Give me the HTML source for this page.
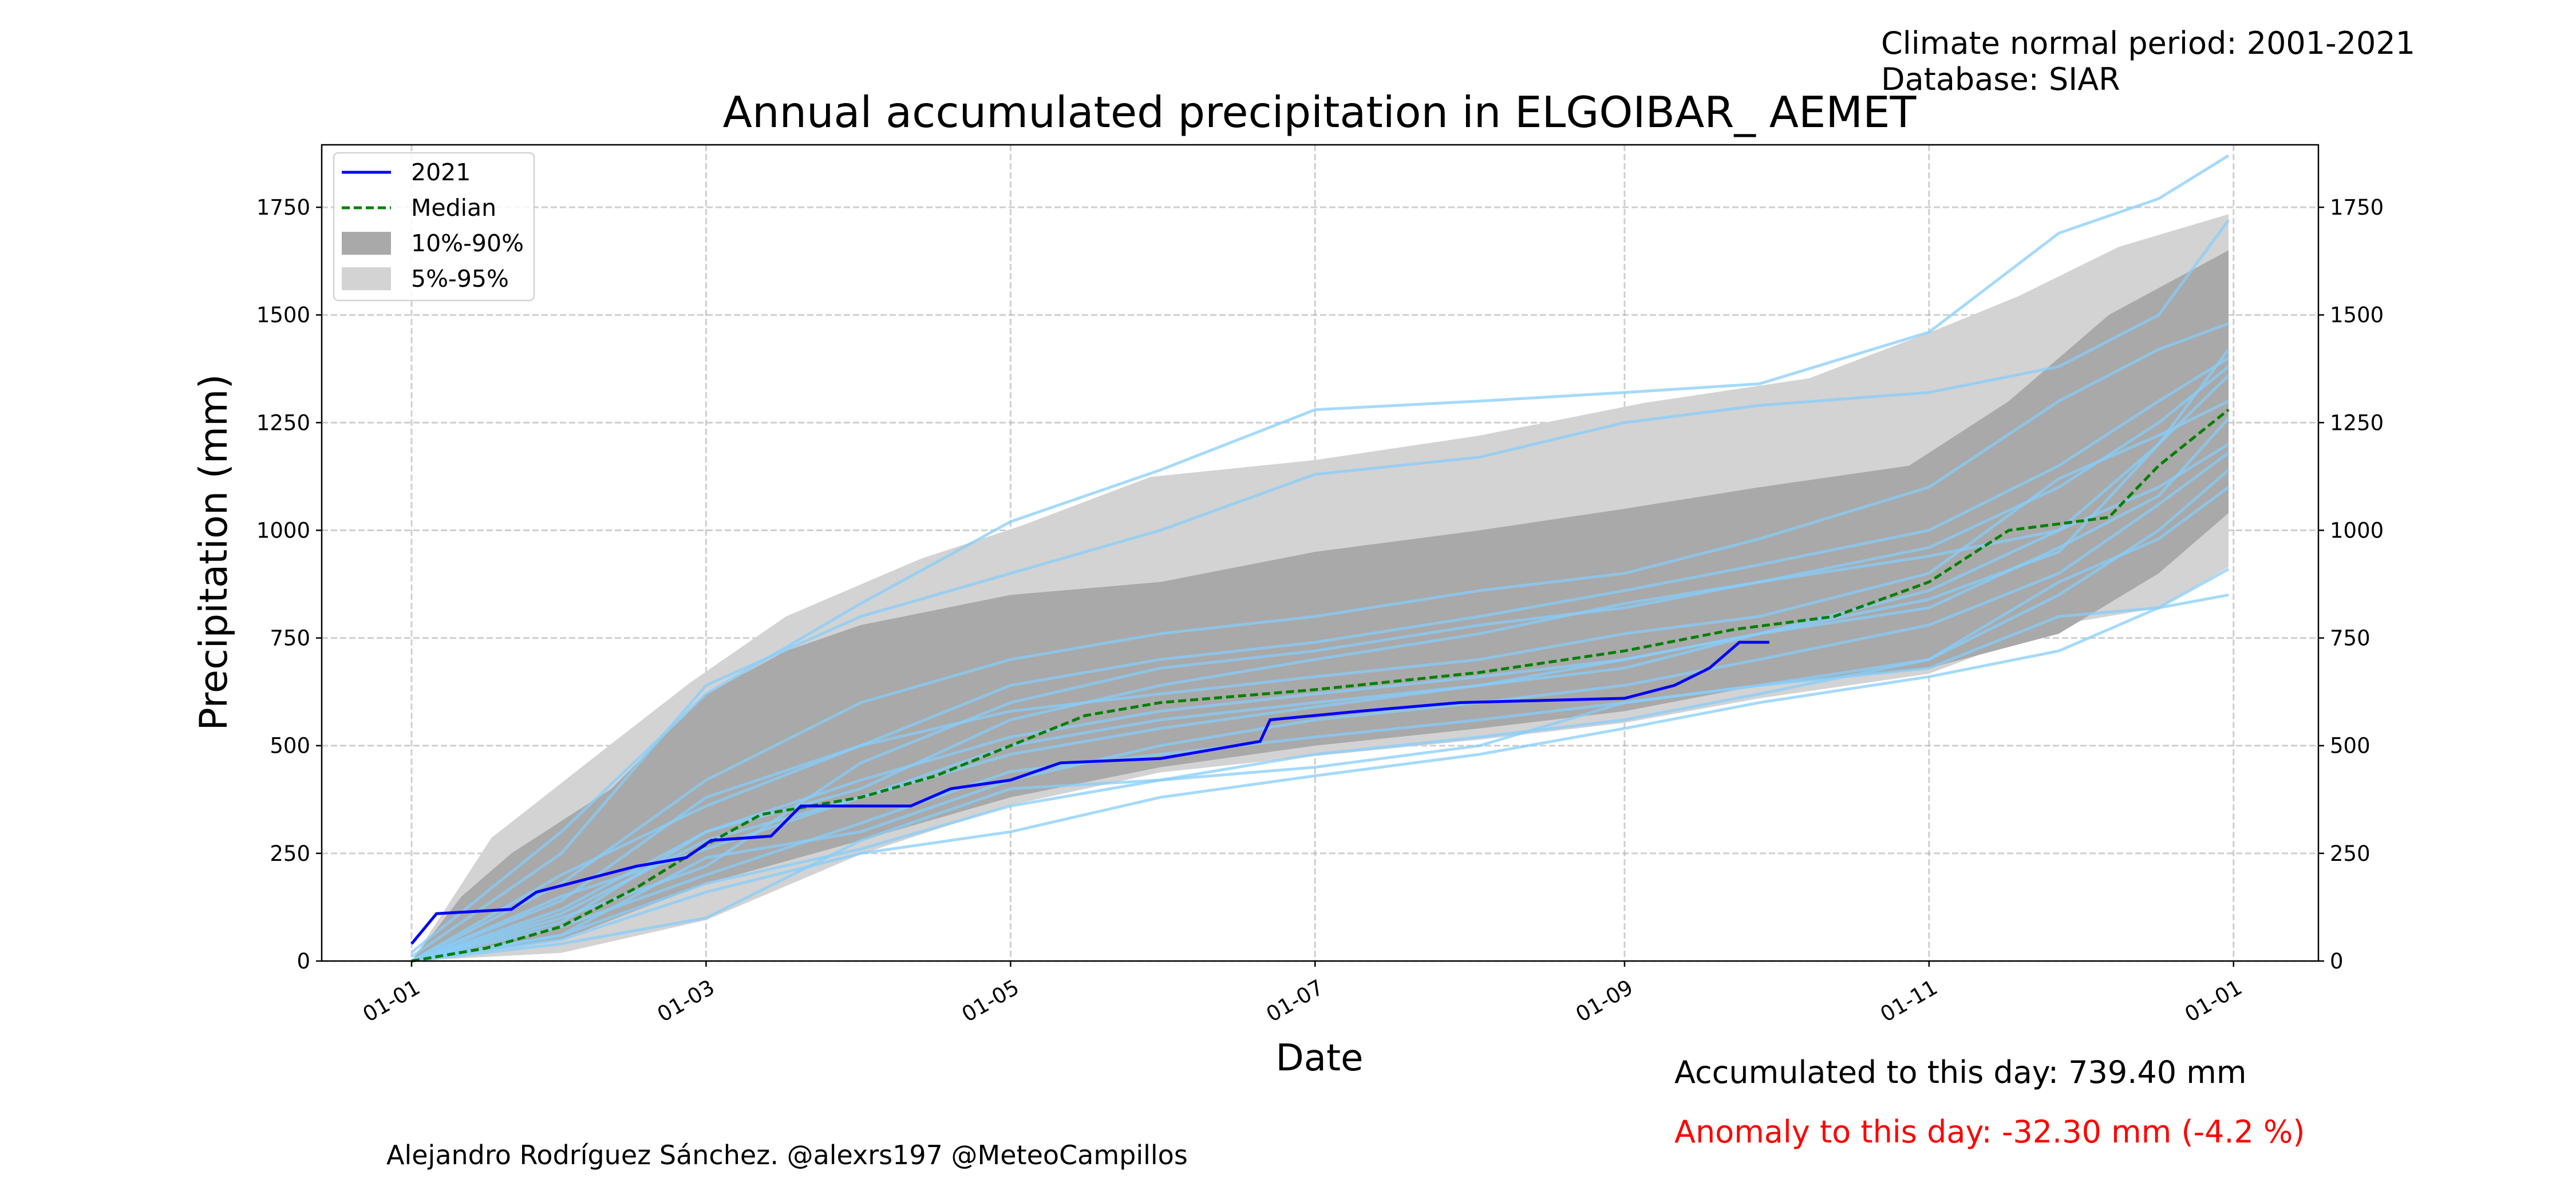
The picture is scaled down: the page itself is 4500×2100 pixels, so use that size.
<!DOCTYPE html>
<html><head><meta charset="utf-8"><style>
html,body{margin:0;padding:0;background:#fff;}
svg{display:block;font-family:"DejaVu Sans","Liberation Sans",sans-serif;}
</style></head><body>
<svg id="chart" width="4500" height="2100" viewBox="0 0 4500 2100" xmlns="http://www.w3.org/2000/svg">
<rect width="4500" height="2100" fill="#fff"/>
<text x="3286" y="94" font-size="54">Climate normal period: 2001-2021</text>
<text x="3286" y="157" font-size="54">Database: SIAR</text>
<text x="2305" y="222" font-size="75" text-anchor="middle">Annual accumulated precipitation in ELGOIBAR_ AEMET</text>
<g id="plot"></g>
<text x="2305" y="1870" font-size="64" text-anchor="middle">Date</text>
<text transform="translate(396,965) rotate(-90)" font-size="67" text-anchor="middle">Precipitation (mm)</text>
<text x="2925" y="1892" font-size="54">Accumulated to this day: 739.40 mm</text>
<text x="2925" y="1996" font-size="54" fill="#ff0000">Anomaly to this day: -32.30 mm (-4.2 %)</text>
<text x="675" y="2034" font-size="46">Alejandro Rodríguez Sánchez. @alexrs197 @MeteoCampillos</text>
</svg>
<script>
const tickDays=[0,59,120,181,243,304,365];
const tickLabels=["01-01","01-03","01-05","01-07","01-09","01-11","01-01"];
const yTicks=[0,250,500,750,1000,1250,1500,1750];
const p95Days=[0,16,39,56,75,102,122,148,181,214,247,280,306,322,342,364];
const p95Vals=[0,286,495,648,800,934,1010,1124,1163,1220,1296,1353,1468,1544,1658,1734];
const p5Days=[0,30,59,90,120,150,181,214,243,270,304,330,350,364];
const p5Vals=[0,19,95,248,362,438,476,514,553,610,667,781,820,915];
const p90Days=[0,10,20,40,59,75,90,120,150,181,214,243,270,300,320,340,364];
const p90Vals=[0,150,250,400,620,720,780,850,880,950,1000,1050,1100,1150,1300,1500,1650];
const p10Days=[0,30,59,90,120,150,181,214,243,270,304,330,350,364];
const p10Vals=[0,50,180,280,380,450,500,540,580,640,680,760,900,1040];
const medDays=[0,15,30,45,59,70,90,105,120,135,150,181,214,243,265,285,304,320,340,350,364];
const medVals=[0,30,80,170,270,340,380,430,500,570,600,630,670,720,770,800,880,1000,1030,1150,1280];
const curDays=[0,5,20,25,35,45,55,60,72,78,100,108,120,130,150,160,170,172,190,210,243,253,260,266,272];
const curVals=[40,110,120,160,190,220,240,280,290,360,360,400,420,460,470,490,510,560,580,600,610,640,680,740,740];
const yearDays=[0,30,59,90,120,150,181,214,243,270,304,330,350,364];
const yearVals=[
[20,300,620,830,1020,1140,1280,1300,1320,1340,1460,1690,1770,1870],
[0,40,100,280,400,420,450,500,600,640,680,800,820,850],
[10,250,640,800,900,1000,1130,1170,1250,1290,1320,1380,1500,1720],
[0,120,300,400,560,640,700,760,830,880,960,1100,1250,1380],
[0,80,200,320,440,480,520,560,600,640,700,850,1000,1140],
[0,180,420,600,700,760,800,860,900,980,1100,1300,1420,1480],
[0,60,240,300,420,500,560,600,640,700,780,900,1060,1180],
[0,150,260,380,500,560,600,640,680,760,860,1000,1200,1360],
[0,100,220,460,600,680,720,780,820,880,940,1000,1100,1200],
[0,60,180,260,360,420,480,520,560,620,700,880,980,1100],
[0,200,360,500,640,700,740,800,860,920,1000,1150,1300,1400],
[0,90,300,420,520,580,620,660,700,760,820,960,1080,1260],
[0,140,380,500,580,620,660,700,760,800,900,1120,1220,1300],
[0,50,160,250,300,380,430,480,540,600,660,720,820,910],
[0,110,280,380,480,540,590,640,700,760,840,950,1200,1420]
];
const NS="http://www.w3.org/2000/svg";
const L=562,R=4050,T=253,B=1679;
const xMin=-18,xMax=382,yMin=0,yMax=1895;
const X=d=>L+(d-xMin)/(xMax-xMin)*(R-L);
const Y=v=>B-(v-yMin)/(yMax-yMin)*(B-T);
const g=document.getElementById('plot');
function mk(tag,attrs,parent){const e=document.createElementNS(NS,tag);for(const k in attrs)e.setAttribute(k,attrs[k]);(parent||g).appendChild(e);return e;}
function pts(days,vals){return days.map((d,i)=>X(d).toFixed(1)+','+Y(vals[i]).toFixed(1));}
function band(dU,vU,dL,vL){return pts(dU,vU).concat(pts(dL,vL).reverse()).join(' ');}
tickDays.forEach((d,i)=>{
  const ln=mk('line',{x1:X(d),x2:X(d),y1:T,y2:B,stroke:'#b0b0b0','stroke-width':3,'stroke-dasharray':'11,5',opacity:0.6});
  
  
});
yTicks.forEach(v=>{
  const ln=mk('line',{x1:L,x2:R,y1:Y(v),y2:Y(v),stroke:'#b0b0b0','stroke-width':3,'stroke-dasharray':'11,5',opacity:0.6});
  
  
});
const b1=mk('polygon',{points:band(p95Days,p95Vals,p5Days,p5Vals),fill:'#d3d3d3'});


const b2=mk('polygon',{points:band(p90Days,p90Vals,p10Days,p10Vals),fill:'#a9a9a9'});


yearVals.forEach(vals=>{
  const pl=mk('polyline',{points:pts(yearDays,vals).join(' '),fill:'none',stroke:'#87cefa','stroke-width':5,opacity:0.75});
  
  
});
const med=mk('polyline',{points:pts(medDays,medVals).join(' '),fill:'none',stroke:'#008000','stroke-width':5,'stroke-dasharray':'14,7'});


const cur=mk('polyline',{points:pts(curDays,curVals).join(' '),fill:'none',stroke:'#0000ff','stroke-width':5});


const fr=mk('rect',{x:L,y:T,width:R-L,height:B-T,fill:'none',stroke:'#000','stroke-width':2.5});


yTicks.forEach(v=>{
  mk('line',{x1:L-10,x2:L,y1:Y(v),y2:Y(v),stroke:'#000','stroke-width':2.5});
  mk('line',{x1:R,x2:R+10,y1:Y(v),y2:Y(v),stroke:'#000','stroke-width':2.5});
  const t1=mk('text',{x:L-20,y:Y(v)+13,'font-size':37,'text-anchor':'end'});t1.textContent=v;
  
  
  const t2=mk('text',{x:R+20,y:Y(v)+13,'font-size':37});t2.textContent=v;
  
  
});
tickDays.forEach((d,i)=>{
  mk('line',{x1:X(d),x2:X(d),y1:B,y2:B+10,stroke:'#000','stroke-width':2.5});
  const t=mk('text',{transform:`translate(${X(d)+4},${B+30}) rotate(-30)`,'font-size':37,'text-anchor':'end','dominant-baseline':'hanging'});
  t.textContent=tickLabels[i];
  
  
});
const lg=mk('g',{});


mk('rect',{x:583,y:267,width:350,height:258,rx:8,fill:'#fff',stroke:'#ccc','stroke-width':2.5,opacity:0.85},lg);
const items=[['2021','line','#0000ff'],['Median','dash','#008000'],['10%-90%','box','#a9a9a9'],['5%-95%','box','#d3d3d3']];
items.forEach((it,i)=>{
  const cy=301+i*62;
  if(it[1]==='box') mk('rect',{x:597,y:cy-20,width:86,height:40,fill:it[2]},lg);
  else mk('line',{x1:597,x2:683,y1:cy,y2:cy,stroke:it[2],'stroke-width':5,'stroke-dasharray':it[1]==='dash'?'14,7':'none'},lg);
  const t=mk('text',{x:718,y:cy+14,'font-size':41},lg);t.textContent=it[0];
  
  
});
</script>
</body></html>
